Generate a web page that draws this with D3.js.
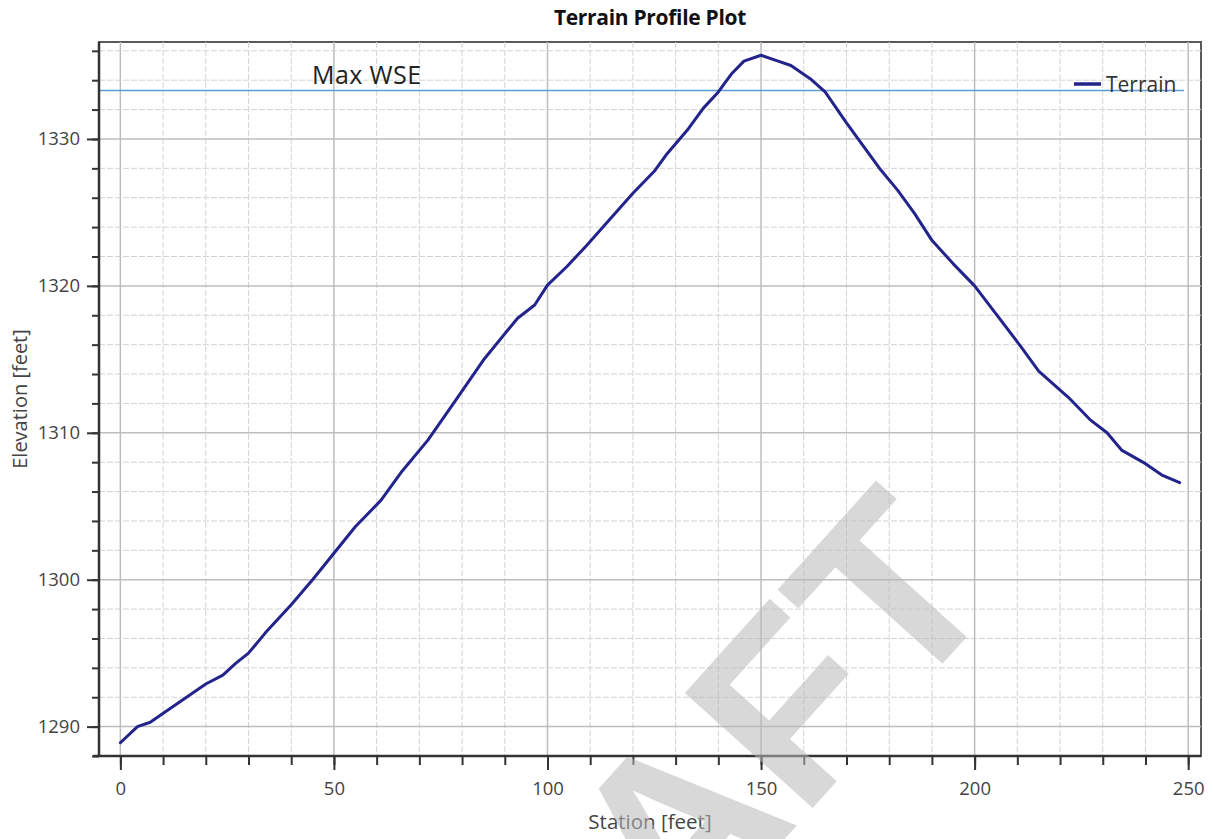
<!DOCTYPE html>
<html>
<head>
<meta charset="utf-8">
<script src="https://cdn.jsdelivr.net/npm/d3@7"></script>
<style>
  html, body { margin: 0; padding: 0; background: #fff; }
  svg { display: block; }
</style>
</head>
<body>
<svg id="chart" width="1213" height="839"></svg>
<script>
// ---- Data ----
const stations = [0, 4, 7, 8, 12, 16, 20, 24, 27, 30, 34, 40, 45, 50, 55, 61, 66, 72, 78, 85, 93, 97, 100, 104.5, 109, 113, 120, 125, 128, 133, 136.5, 140, 143, 146, 150, 154, 157, 161.5, 165, 170, 174, 178, 182, 186, 190, 195, 200, 205, 211, 215, 222, 227, 231, 234.5, 240, 244, 248];
const elevations = [1288.9, 1290.0, 1290.3, 1290.5, 1291.3, 1292.1, 1292.9, 1293.5, 1294.3, 1295.0, 1296.4, 1298.3, 1300.0, 1301.8, 1303.6, 1305.4, 1307.4, 1309.5, 1312.0, 1314.95, 1317.8, 1318.7, 1320.05, 1321.3, 1322.7, 1324.0, 1326.3, 1327.8, 1329.0, 1330.7, 1332.1, 1333.2, 1334.4, 1335.3, 1335.7, 1335.3, 1335.0, 1334.1, 1333.2, 1331.1, 1329.5, 1327.9, 1326.5, 1324.9, 1323.1, 1321.5, 1320.0, 1318.1, 1315.8, 1314.2, 1312.4, 1310.9, 1310.0, 1308.8, 1307.9, 1307.1, 1306.6];
const maxWSE = 1333.3;
const maxWSEExtent = [-5, 249];
const xMajorTicks = [0, 50, 100, 150, 200, 250];
const xMinorTicks = d3.range(0, 251, 10);
const yMajorTicks = [1290, 1300, 1310, 1320, 1330];
const yMinorTicks = d3.range(1288, 1337, 2);
const titleText = "Terrain Profile Plot";
const xTitle = "Station [feet]";
const yTitle = "Elevation [feet]";
const seriesName = "Terrain";
const wseLabel = "Max WSE";
const watermark = "DRAFT";

// ---- Layout ----
const svg = d3.select("#chart");
const L = 99, T = 42, R = 1201, B = 756;
const x = d3.scaleLinear().domain([-5, 253]).range([L, R]);
const y = d3.scaleLinear().domain([1288, 1336.6]).range([B, T]);
const font = "'Open Sans', 'Noto Sans', sans-serif";

// plot border (top/right)
svg.append("rect").attr("x", L).attr("y", T).attr("width", R - L).attr("height", B - T)
  .attr("fill", "#fff").attr("stroke", "#5a5a5a").attr("stroke-width", 2);

const grid = svg.append("g");
// minor grid
grid.selectAll(".vmin").data(xMinorTicks.filter(d => !xMajorTicks.includes(d))).enter().append("line")
  .attr("x1", d => x(d)).attr("x2", d => x(d)).attr("y1", T).attr("y2", B)
  .attr("stroke", "#d4d4d4").attr("stroke-width", 1).attr("stroke-dasharray", "6,2");
grid.selectAll(".hmin").data(yMinorTicks.filter(d => !yMajorTicks.includes(d))).enter().append("line")
  .attr("y1", d => y(d)).attr("y2", d => y(d)).attr("x1", L).attr("x2", R)
  .attr("stroke", "#d4d4d4").attr("stroke-width", 1).attr("stroke-dasharray", "6,2");
// major grid
grid.selectAll(".vmaj").data(xMajorTicks).enter().append("line")
  .attr("x1", d => x(d)).attr("x2", d => x(d)).attr("y1", T).attr("y2", B)
  .attr("stroke", "#bdbdbd").attr("stroke-width", 1.5);
grid.selectAll(".hmaj").data(yMajorTicks).enter().append("line")
  .attr("y1", d => y(d)).attr("y2", d => y(d)).attr("x1", L).attr("x2", R)
  .attr("stroke", "#bdbdbd").attr("stroke-width", 1.5);

// Max WSE line
svg.append("line")
  .attr("x1", x(maxWSEExtent[0])).attr("x2", x(maxWSEExtent[1]))
  .attr("y1", y(maxWSE)).attr("y2", y(maxWSE))
  .attr("stroke", "#5b9bd5").attr("stroke-width", 1.5);
svg.append("text").attr("x", 312).attr("y", 84)
  .attr("font-family", font).attr("font-size", 25).attr("letter-spacing", 0.4).attr("fill", "#222")
  .text(wseLabel);

// terrain line
const data = stations.map((s, i) => ({ s, e: elevations[i] }));
svg.append("path").datum(data)
  .attr("fill", "none").attr("stroke", "#23238c").attr("stroke-width", 3)
  .attr("stroke-linejoin", "round").attr("stroke-linecap", "round")
  .attr("d", d3.line().x(d => x(d.s)).y(d => y(d.e)));

// legend
svg.append("line").attr("x1", 1074).attr("x2", 1101).attr("y1", 84).attr("y2", 84)
  .attr("stroke", "#23238c").attr("stroke-width", 3.5);
svg.append("text").attr("x", 1106).attr("y", 92)
  .attr("font-family", font).attr("font-size", 21).attr("fill", "#333").text(seriesName);

// axes
const xAxisMinor = d3.axisBottom(x).tickValues(xMinorTicks).tickSize(9).tickFormat("");
const xAxisMajor = d3.axisBottom(x).tickValues(xMajorTicks).tickSize(14).tickPadding(12);
const yAxisMinor = d3.axisLeft(y).tickValues(yMinorTicks).tickSize(7).tickFormat("");
const yAxisMajor = d3.axisLeft(y).tickValues(yMajorTicks).tickSize(12).tickPadding(7).tickFormat(d3.format("d"));

function styleAxis(g) {
  g.select(".domain").remove();
  g.selectAll("line").attr("stroke", "#333").attr("stroke-width", 2);
  g.selectAll("text").attr("font-family", font).attr("font-size", 18.5).attr("fill", "#444");
}
svg.append("g").attr("transform", `translate(0,${B})`).call(xAxisMinor).call(styleAxis);
svg.append("g").attr("transform", `translate(0,${B})`).call(xAxisMajor).call(styleAxis);
svg.append("g").attr("transform", `translate(${L},0)`).call(yAxisMinor).call(styleAxis);
svg.append("g").attr("transform", `translate(${L},0)`).call(yAxisMajor).call(styleAxis);
// axis lines
svg.append("line").attr("x1", L - 6).attr("x2", R).attr("y1", B).attr("y2", B)
  .attr("stroke", "#333").attr("stroke-width", 2.5);
svg.append("line").attr("x1", L).attr("x2", L).attr("y1", T).attr("y2", B + 1)
  .attr("stroke", "#333").attr("stroke-width", 2.5);

// titles
svg.append("text").attr("x", (L + R) / 2).attr("y", 25).attr("text-anchor", "middle")
  .attr("font-family", font).attr("font-weight", "bold").attr("font-size", 21)
  .attr("letter-spacing", -0.3).attr("fill", "#111").text(titleText);
svg.append("text").attr("x", (L + R) / 2).attr("y", 829).attr("text-anchor", "middle")
  .attr("font-family", font).attr("font-size", 20.5).attr("fill", "#444").text(xTitle);
svg.append("text").attr("transform", `translate(27,${(T + B) / 2}) rotate(-90)`)
  .attr("text-anchor", "middle")
  .attr("font-family", font).attr("font-size", 20).attr("fill", "#444").text(yTitle);

// watermark
svg.append("text").attr("transform", "translate(439,1223) rotate(-48)")
  .attr("font-family", "'Liberation Sans', Arial, sans-serif").attr("font-weight", "bold")
  .attr("font-size", 250).attr("fill", "#b8b8b8").attr("fill-opacity", 0.55)
  .text(watermark);
</script>
</body>
</html>
